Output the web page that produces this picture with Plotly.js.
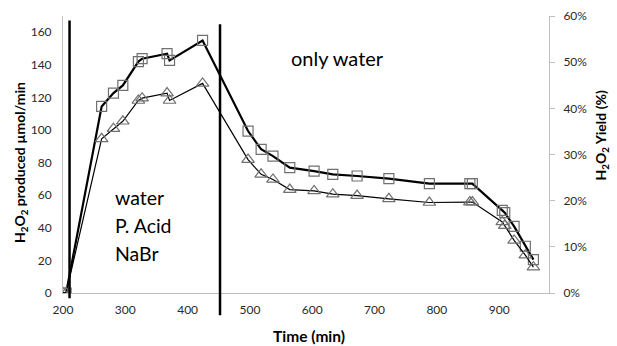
<!DOCTYPE html>
<html>
<head>
<meta charset="utf-8">
<script src="https://cdn.plot.ly/plotly-3.0.1.min.js"></script>
<style>html,body{margin:0;padding:0;background:#fff;}#chart{width:617px;height:346px;}</style>
</head>
<body>
<div id="chart"></div>
<script>
// Time (min)
const timeMin = [200, 205, 262, 281, 296, 321, 327, 367, 371, 424, 497, 518, 537, 564, 603, 633, 672, 723, 788, 853, 857, 905, 909, 924, 942, 955];
// H2O2 produced (µmol/min) - squares, left axis
const producedRate = [0, 0, 114.5, 122.7, 127.4, 142, 143.8, 146.9, 142.8, 155, 99.4, 88.2, 84, 76.9, 74.8, 72.8, 71.8, 70.2, 67.1, 67.1, 67.1, 50.7, 49.3, 40.9, 28.7, 20.5];
// H2O2 yield (fraction) - triangles, right axis
const yieldFrac = [0, 0, 0.334, 0.356, 0.372, 0.417, 0.422, 0.433, 0.417, 0.454, 0.289, 0.257, 0.246, 0.224, 0.221, 0.214, 0.211, 0.204, 0.196, 0.197, 0.197, 0.154, 0.146, 0.114, 0.082, 0.056];
// Phase boundaries (min)
const phaseLines = [210.5, 452];
const xTicks = [200, 300, 400, 500, 600, 700, 800, 900];
const yTicks = [0, 20, 40, 60, 80, 100, 120, 140, 160];
const y2Ticks = [0, 0.1, 0.2, 0.3, 0.4, 0.5, 0.6];

const FONT = 'Lato, "Open Sans", sans-serif';

const traces = [
  {
    x: timeMin, y: producedRate, type: 'scatter', mode: 'lines+markers',
    line: {color: '#000', width: 2.2},
    marker: {symbol: 'square-open', size: 10, color: '#707070', line: {width: 1.2}},
    showlegend: false, hoverinfo: 'skip'
  },
  {
    x: timeMin, y: yieldFrac, type: 'scatter', mode: 'lines+markers', yaxis: 'y2',
    line: {color: '#000', width: 1.2},
    marker: {symbol: 'triangle-up-open', size: 11, color: '#707070', line: {width: 1.2}},
    showlegend: false, hoverinfo: 'skip'
  }
];

const layout = {
  width: 617, height: 346,
  margin: {l: 63, r: 68, t: 16, b: 53},
  paper_bgcolor: '#fff', plot_bgcolor: '#fff',
  font: {family: FONT, size: 12, color: '#2a2a2a'},
  xaxis: {
    range: [200, 980], tickvals: xTicks, ticktext: xTicks.map(String),
    showgrid: false, zeroline: false, showline: true, linecolor: '#bfbfbf', linewidth: 1,
    ticks: '', ticklabelstandoff: 6, tickfont: {size: 12, color: '#2a2a2a'}
  },
  yaxis: {
    range: [0, 170], tickvals: yTicks, ticktext: yTicks.map(String),
    showgrid: false, zeroline: false, showline: true, linecolor: '#bfbfbf', linewidth: 1,
    ticks: '', ticklabelstandoff: 8, tickfont: {size: 12, color: '#2a2a2a'}
  },
  yaxis2: {
    overlaying: 'y', side: 'right', range: [0, 0.6], tickvals: y2Ticks,
    tickformat: '.0%', showgrid: false, zeroline: false, showline: true,
    linecolor: '#bfbfbf', linewidth: 1, ticks: 'outside', ticklen: 5, tickcolor: '#bfbfbf',
    ticklabelstandoff: 6, tickfont: {size: 12, color: '#2a2a2a'}
  },
  shapes: phaseLines.map((xv, i) => ({
    type: 'line', xref: 'x', yref: 'paper', x0: xv, x1: xv,
    y0: i === 0 ? -0.019 : -0.08, y1: i === 0 ? 0.984 : 0.97,
    line: {color: '#000', width: 2.5}
  })),
  annotations: [
    {text: 'H<sub>2</sub>O<sub>2</sub> produced µmol/min', xref: 'paper', yref: 'paper', x: -0.086, y: 0.47,
     textangle: -90, showarrow: false, xanchor: 'center', yanchor: 'middle', font: {size: 14, color: '#000', family: FONT, weight: 'bold'}},
    {text: 'H<sub>2</sub>O<sub>2</sub> Yield (%)', xref: 'paper', yref: 'paper', x: 1.108, y: 0.57,
     textangle: -90, showarrow: false, xanchor: 'center', yanchor: 'middle', font: {size: 14, color: '#000', family: FONT, weight: 'bold'}},
    {text: 'Time (min)', xref: 'paper', yref: 'paper', x: 0.506, y: -0.155, showarrow: false,
     xanchor: 'center', yanchor: 'middle', font: {size: 15.5, color: '#000', family: FONT, weight: 'bold'}},
    {text: 'only water', xref: 'paper', yref: 'paper', x: 0.466, y: 0.85, showarrow: false,
     xanchor: 'left', yanchor: 'middle', font: {size: 20, color: '#000', family: FONT}},
    {text: 'water', xref: 'paper', yref: 'paper', x: 0.103, y: 0.3455, showarrow: false,
     xanchor: 'left', yanchor: 'middle', font: {size: 19.5, color: '#000', family: FONT}},
    {text: 'P. Acid', xref: 'paper', yref: 'paper', x: 0.103, y: 0.245, showarrow: false,
     xanchor: 'left', yanchor: 'middle', font: {size: 19.5, color: '#000', family: FONT}},
    {text: 'NaBr', xref: 'paper', yref: 'paper', x: 0.103, y: 0.144, showarrow: false,
     xanchor: 'left', yanchor: 'middle', font: {size: 19.5, color: '#000', family: FONT}}
  ]
};

Plotly.newPlot('chart', traces, layout, {displayModeBar: false, staticPlot: true});
</script>
</body>
</html>
